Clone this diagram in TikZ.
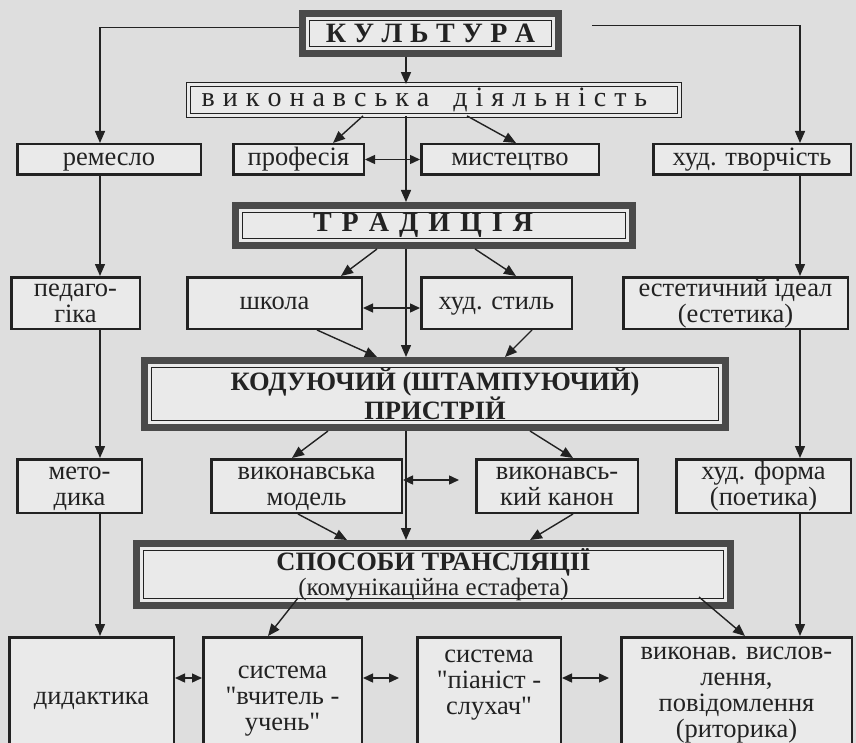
\documentclass[tikz,border=0pt]{standalone}
\usepackage{fontspec}
\setmainfont{Liberation Serif}[Ligatures=TeXOff]
\usetikzlibrary{arrows.meta}
\definecolor{bgc}{HTML}{DEDEDE}
\definecolor{boxfill}{HTML}{EAEAEA}
\definecolor{ink}{HTML}{222222}
\definecolor{band}{HTML}{4A4A4A}
\newcommand\kgap{\hspace{7.5pt}}
\newcommand\tgap{\hspace{10pt}}
\newcommand\vgap{\hspace{8pt}}
\newcommand\innerline[1]{\draw[ink, line width=1.3pt] ([shift={(10.5,10.5)}]#1.north west) rectangle ([shift={(-10.5,-10.5)}]#1.south east);}
\tikzset{
  box/.style={draw=ink, line width=2.5pt, fill=boxfill, align=center, inner sep=0pt, text=ink, text height=17pt, text depth=4pt},
  twolines/.style={text height=43pt},
  threelines/.style={text height=69pt},
  fourlines/.style={text height=95pt},
  headbox/.style={draw=band, line width=7pt, fill=boxfill, align=center, inner sep=0pt, text=ink, font=\fontsize{26.5}{25.5}\selectfont\bfseries},
  dblbox/.style={draw=ink, line width=1.2pt, double=boxfill, double distance=3pt, fill=boxfill, inner sep=0pt, text=ink},
  arr/.style={draw=ink, line width=1.4pt, -{Triangle[length=12pt,width=10pt]}},
  darr/.style={draw=ink, line width=1.4pt, {Triangle[length=10pt,width=9pt]}-{Triangle[length=10pt,width=9pt]}},
  boxtext/.style={align=center, text=ink, inner sep=0pt, text depth=4pt},
}
\begin{document}
\begin{tikzpicture}[x=1pt, y=-1pt, font=\fontsize{26.5}{26}\selectfont]
\clip (0,0) rectangle (856,743);
\fill[bgc] (0,0) rectangle (856,743);

% headings
\node[headbox, minimum width=256pt, minimum height=40pt, font=\fontsize{28}{24}\selectfont\bfseries] (kult) at (430.5,33.5)
  {К\kgap У\kgap Л\kgap Ь\kgap Т\kgap У\kgap Р\kgap А};
\innerline{kult}
\node[dblbox, minimum width=490.6pt, minimum height=30.6pt, font=\fontsize{28}{24}\selectfont] (vd) at (434,100)
  {в\vgap и\vgap к\vgap о\vgap н\vgap а\vgap в\vgap с\vgap ь\vgap к\vgap а\hspace{24pt}д\vgap і\vgap я\vgap л\vgap ь\vgap н\vgap і\vgap с\vgap т\vgap ь\kern19pt};
\node[headbox, minimum width=397pt, minimum height=40pt, font=\fontsize{28}{24}\selectfont\bfseries] (trad) at (434,225.5)
  {Т\tgap Р\tgap А\tgap Д\tgap И\tgap Ц\tgap І\tgap Я\kern22pt};
\innerline{trad}
\node[headbox, minimum width=581pt, minimum height=67pt] (kod) at (435,394)
  {КОДУЮЧИЙ (ШТАМПУЮЧИЙ)\\ПРИСТРІЙ};
\innerline{kod}
\node[headbox, minimum width=594pt, minimum height=62pt] (sposob) at (433.5,574.5)
  {СПОСОБИ ТРАНСЛЯЦІЇ\\{\normalfont\fontsize{25}{25.5}\selectfont (комунікаційна естафета)}};
\innerline{sposob}

% row 3
\node[box, minimum width=183.5pt, minimum height=30.5pt] (remeslo) at (109,159.5) {ремесло};
\node[box, minimum width=130.5pt, minimum height=30.5pt] (prof) at (298.5,159.5) {професія};
\node[box, minimum width=177.5pt, minimum height=30.5pt] (myst) at (510,159.5) {мистецтво};
\node[box, minimum width=197.5pt, minimum height=30.5pt] (tvor) at (752,159.5) {худ. творчість};
% row 5
\node[box, twolines, minimum width=128.5pt, minimum height=51.5pt] (pedag) at (75.5,303) {педаго-\\гіка};
\node[box, minimum width=174.5pt, minimum height=51.5pt] (shkola) at (274.5,303) {школа};
\node[box, minimum width=150.5pt, minimum height=51.5pt] (stil) at (496.5,303) {худ. стиль};
\node[box, twolines, minimum width=224.5pt, minimum height=51.5pt] (estet) at (735.5,303) {естетичний ідеал\\(естетика)};
% row 7
\node[box, twolines, minimum width=124.5pt, minimum height=53.5pt] (metod) at (79.5,486) {мето-\\дика};
\node[box, twolines, minimum width=190.5pt, minimum height=53.5pt] (model) at (306.5,486) {виконавська\\модель};
\node[box, twolines, minimum width=161.5pt, minimum height=53.5pt] (kanon) at (557,486) {виконавсь-\\кий канон};
\node[box, twolines, minimum width=174.5pt, minimum height=53.5pt] (forma) at (763.5,486) {худ. форма\\(поетика)};
% row 9 (cut by the lower edge)
\node[box, minimum width=164.5pt, minimum height=121.5pt] (didakt) at (91.5,698) {дидактика};
\node[box, threelines, minimum width=158.5pt, minimum height=121.5pt] (vchit) at (282.5,698) {система\\"вчитель -\\учень"};
\node[box, minimum width=143.5pt, minimum height=121.5pt,
      label={[name=pianistT, yshift=16pt, boxtext, threelines]center:{система\\"піаніст -\\слухач"}}] (pianist) at (489,698) {};
\node[box, minimum width=230.5pt, minimum height=121.5pt,
      label={[name=vykonT, yshift=6pt, boxtext, fourlines]center:{виконав. вислов-\\лення,\\повідомлення\\(риторика)}}] (vykon) at (736.5,698) {};

\coordinate (colL) at (100,0);
\coordinate (colR) at (800,0);
\coordinate (colC) at (406,0);

% side columns
\draw[arr] ([yshift=6pt]kult.west) -| (remeslo.north -| colL);
\draw[arr, shorten <=30pt] ([yshift=8pt]kult.east) -| (tvor.north -| colR);
\draw[arr] (remeslo.south -| colL) -- (pedag.north -| colL);
\draw[arr] (pedag.south -| colL) -- (metod.north -| colL);
\draw[arr] (metod.south -| colL) -- (didakt.north -| colL);
\draw[arr] (tvor.south -| colR) -- (estet.north -| colR);
\draw[arr] (estet.south -| colR) -- (forma.north -| colR);
\draw[arr] (forma.south -| colR) -- (vykon.north -| colR);

% central column
\draw[arr] (kult.south -| colC) -- (vd.north -| colC);
\draw[arr] (vd.south -| colC) -- (trad.north -| colC);
\draw[arr] (trad.south -| colC) -- (kod.north -| colC);
\draw[arr] (kod.south -| colC) -- (sposob.north -| colC);

% diagonals
\draw[arr] ([xshift=-71pt]vd.south) -- ([xshift=34.5pt]prof.north);
\draw[arr] ([xshift=33pt]vd.south) -- ([xshift=6pt]myst.north);
\draw[arr] ([xshift=-57pt]trad.south) -- ([xshift=66.5pt]shkola.north);
\draw[arr] ([xshift=41pt]trad.south) -- ([xshift=19.5pt]stil.north);
\draw[arr] ([xshift=42.5pt]shkola.south) -- ([xshift=-58pt]kod.north);
\draw[arr] ([xshift=35.5pt]stil.south) -- ([xshift=70pt]kod.north);
\draw[arr] ([xshift=-107pt]kod.south) -- ([xshift=-14.5pt]model.north);
\draw[arr] ([xshift=95pt]kod.south) -- ([xshift=16pt]kanon.north);
\draw[arr] ([xshift=-8.5pt]model.south) -- ([xshift=-86.5pt]sposob.north);
\draw[arr] ([xshift=16pt]kanon.south) -- ([xshift=96.5pt]sposob.north);
\draw[arr] ([xshift=-135.5pt,yshift=11pt]sposob.south) -- ([xshift=-14.5pt]vchit.north);
\draw[arr] ([xshift=265.5pt,yshift=12pt]sposob.south) -- ([xshift=8.5pt]vykon.north);

% double arrows
\draw[darr] (prof.east) -- (myst.west);
\draw[darr] ([yshift=-5pt]shkola.east) -- ([yshift=-5pt]stil.west);
\draw[darr, shorten >=16pt] ([yshift=6pt]model.east) -- ([yshift=6pt]kanon.west);
\draw[darr] ([yshift=20pt]didakt.east) -- ([yshift=20pt]vchit.west);
\draw[darr, shorten >=17pt] ([yshift=20pt]vchit.east) -- ([yshift=20pt]pianist.west);
\draw[darr, shorten >=11pt] ([yshift=20pt]pianist.east) -- ([yshift=20pt]vykon.west);
\end{tikzpicture}
\end{document}
